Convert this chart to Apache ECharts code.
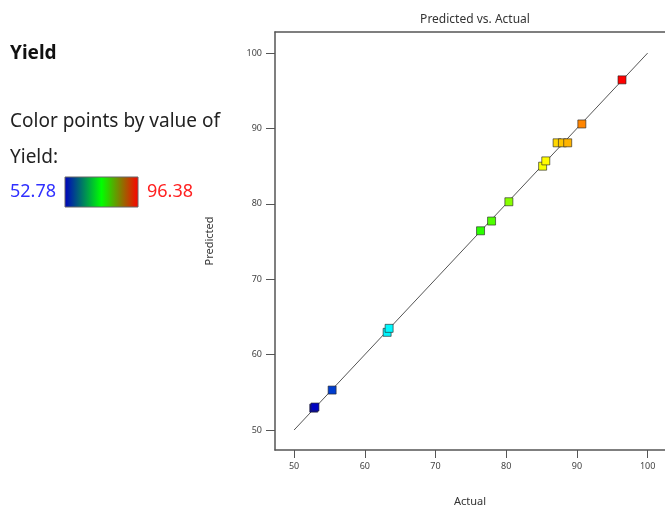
<!DOCTYPE html>
<html>
<head>
<meta charset="utf-8">
<script src="https://cdn.jsdelivr.net/npm/echarts@6/dist/echarts.min.js"></script>
<style>
html,body{margin:0;padding:0;background:#fff;}
#chart{width:665px;height:508px;}
</style>
</head>
<body>
<div id="chart"></div>
<script>
// Data
var actualValues    = [52.78, 52.95, 55.38, 63.16, 63.44, 76.37, 77.93, 80.38, 85.15, 85.60, 87.20, 87.95, 88.70, 90.70, 96.38];
var predictedValues = [52.90, 53.05, 55.30, 62.96, 63.49, 76.43, 77.72, 80.28, 85.00, 85.70, 88.10, 88.10, 88.10, 90.60, 96.45];
var lineX = [50, 100];
var lineY = [50, 100];
var tickLabels = [50, 60, 70, 80, 90, 100];
var colorMin = 52.78;
var colorMax = 96.38;

var points = actualValues.map(function (a, i) { return [a, predictedValues[i], actualValues[i]]; });
var diag = lineX.map(function (x, i) { return [x, lineY[i]]; });

var chart = echarts.init(document.getElementById('chart'), null, {renderer: 'canvas'});
var FONT = 'Noto Sans';
chart.setOption({
  animation: false,
  backgroundColor: '#fff',
  title: {
    text: 'Predicted vs. Actual',
    left: 470, top: 9, textAlign: 'center',
    textStyle: {fontFamily: FONT, fontSize: 12, fontWeight: 'normal', color: '#333'}
  },
  grid: {left: 275, top: 32, right: 0, bottom: 58, show: false, containLabel: false, outerBoundsMode: 'none'},
  xAxis: [{
    type: 'value', min: 47.3, max: 102.46,
    name: 'Actual', nameLocation: 'middle', nameGap: 46,
    nameTextStyle: {fontFamily: FONT, fontSize: 11, color: '#333'},
    splitLine: {show: false},
    axisLine: {show: true, lineStyle: {color: '#555', width: 1.5}},
    axisTick: {show: true, length: 8, customValues: tickLabels, lineStyle: {color: '#555'}},
    axisLabel: {customValues: tickLabels, margin: 12, fontFamily: FONT, fontSize: 9, color: '#444'}
  }, {
    type: 'value', position: 'top', min: 47.3, max: 102.46,
    splitLine: {show: false},
    axisLine: {show: true, lineStyle: {color: '#555', width: 1.5}},
    axisTick: {show: false}, axisLabel: {show: false}
  }],
  yAxis: {
    type: 'value', min: 47.35, max: 102.8,
    name: 'Predicted', nameLocation: 'middle', nameGap: 60, nameRotate: 90,
    nameTextStyle: {fontFamily: FONT, fontSize: 11, color: '#333'},
    splitLine: {show: false},
    axisLine: {show: true, lineStyle: {color: '#555', width: 1.5}},
    axisTick: {show: true, length: 9, customValues: tickLabels, lineStyle: {color: '#555'}},
    axisLabel: {customValues: tickLabels, margin: 13, fontFamily: FONT, fontSize: 9, color: '#444'}
  },
  visualMap: {
    show: false, type: 'continuous', min: colorMin, max: colorMax, dimension: 2, seriesIndex: 1,
    inRange: {color: ['#0000c0', '#00ffff', '#00ff00', '#ffff00', '#ff0000']}
  },
  series: [
    {
      type: 'line', data: diag, showSymbol: false, symbol: 'none',
      lineStyle: {color: '#555', width: 1}, z: 1, silent: true
    },
    {
      type: 'scatter', data: points, symbol: 'rect', symbolSize: 8,
      itemStyle: {borderColor: 'rgba(40,40,40,0.8)', borderWidth: 0.8, opacity: 1}, z: 3
    }
  ],
  graphic: [
    {type: 'text', left: 10, top: 44, style: {text: 'Yield', font: 'bold 19px "Noto Sans"', fill: '#111'}},
    {type: 'text', left: 10, top: 112, style: {text: 'Color points by value of', font: '19px "Noto Sans"', fill: '#222'}},
    {type: 'text', left: 10, top: 148, style: {text: 'Yield:', font: '19px "Noto Sans"', fill: '#222'}},
    {type: 'text', left: 10, top: 183, style: {text: String(colorMin), font: '18px "Noto Sans"', fill: '#3030ff'}},
    {type: 'rect', shape: {x: 65, y: 177, width: 73, height: 30},
      style: {stroke: '#666', lineWidth: 1, fill: new echarts.graphic.LinearGradient(0, 0, 1, 0, [
        {offset: 0, color: '#0000c0'}, {offset: 0.5, color: '#00ff00'}, {offset: 1, color: '#ff0000'}])}},
    {type: 'text', left: 147, top: 183, style: {text: String(colorMax), font: '18px "Noto Sans"', fill: '#ff2020'}}
  ]
});
</script>
</body>
</html>
